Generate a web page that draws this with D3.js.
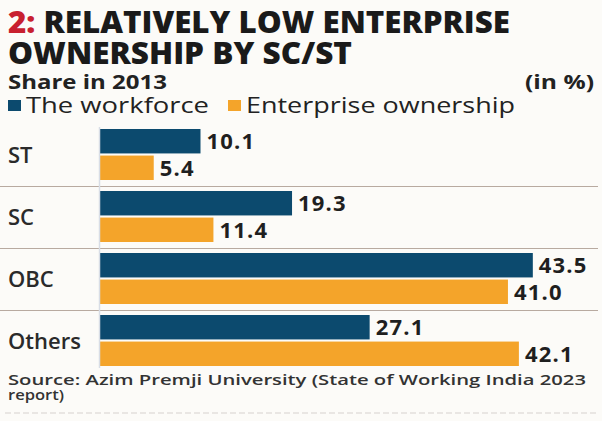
<!DOCTYPE html>
<html>
<head>
<meta charset="utf-8">
<script src="https://cdn.jsdelivr.net/npm/d3@7"></script>
<style>
  html, body { margin: 0; padding: 0; background: #fcfbf8; }
  svg { display: block; }
  text { font-family: "Open Sans", "Noto Sans", sans-serif; }
</style>
</head>
<body>
<div id="chart"></div>
<script>
// Share in 2013 by social group (in %)
const categories = ["ST", "SC", "OBC", "Others"];
const seriesNames = ["The workforce", "Enterprise ownership"];
const workforce = [10.1, 19.3, 43.5, 27.1];
const enterprise = [5.4, 11.4, 41.0, 42.1];
const seriesColors = ["#0c4a6e", "#f4a42a"];

const W = 602, H = 421;
const svg = d3.select("#chart").append("svg")
  .attr("width", W).attr("height", H);

svg.append("rect").attr("width", W).attr("height", H).attr("fill", "#fcfbf8");

// Title
const title = svg.append("g").attr("font-weight", 800).attr("font-size", 30);
const t1 = title.append("text").attr("x", 8).attr("y", 33)
  .attr("textLength", 502).attr("lengthAdjust", "spacingAndGlyphs");
t1.append("tspan").attr("fill", "#c8202f").text("2: ");
t1.append("tspan").attr("fill", "#1a1a1a").text("RELATIVELY LOW ENTERPRISE");
title.append("text").attr("x", 8).attr("y", 64).attr("fill", "#1a1a1a")
  .attr("textLength", 344).attr("lengthAdjust", "spacingAndGlyphs")
  .text("OWNERSHIP BY SC/ST");

// Subtitle and unit
svg.append("text").attr("x", 8).attr("y", 89)
  .attr("font-size", 19).attr("font-weight", 700).attr("fill", "#222")
  .attr("textLength", 159).attr("lengthAdjust", "spacingAndGlyphs")
  .text("Share in 2013");
svg.append("text").attr("x", 525).attr("y", 89)
  .attr("font-size", 19).attr("font-weight", 700).attr("fill", "#222")
  .attr("textLength", 69).attr("lengthAdjust", "spacingAndGlyphs")
  .text("(in %)");

// Legend
const legendX = [8, 228];
const legendLen = [183, 269];
seriesNames.forEach((name, i) => {
  svg.append("rect").attr("x", legendX[i]).attr("y", 100)
    .attr("width", 13).attr("height", 11).attr("fill", seriesColors[i]);
  svg.append("text").attr("x", legendX[i] + 18).attr("y", 113)
    .attr("font-size", 22).attr("font-weight", 500).attr("fill", "#222")
    .attr("textLength", legendLen[i]).attr("lengthAdjust", "spacingAndGlyphs")
    .text(name);
});

// Scales
const x = d3.scaleLinear().domain([0, 50]).range([100, 597.5]);
const y = d3.scaleBand().domain(categories).range([124, 372]);
const ySub = d3.scaleBand().domain(seriesNames).range([5, 56]).paddingInner(0.08);

const rows = categories.map((c, i) => ({
  cat: c,
  vals: [
    { s: seriesNames[0], v: workforce[i], color: seriesColors[0] },
    { s: seriesNames[1], v: enterprise[i], color: seriesColors[1] }
  ]
}));

// Separators between groups
svg.append("g").selectAll("line")
  .data(categories.slice(1))
  .join("line")
  .attr("x1", 0).attr("x2", 598)
  .attr("y1", d => y(d) + 0.5).attr("y2", d => y(d) + 0.5)
  .attr("stroke", "#b8aaa0").attr("stroke-width", 1.2);

const groups = svg.append("g").selectAll("g")
  .data(rows)
  .join("g")
  .attr("transform", d => `translate(0,${y(d.cat)})`);

groups.selectAll("rect")
  .data(d => d.vals)
  .join("rect")
  .attr("x", x(0))
  .attr("y", d => ySub(d.s))
  .attr("width", d => x(d.v) - x(0))
  .attr("height", ySub.bandwidth())
  .attr("fill", d => d.color);

groups.selectAll("text.val")
  .data(d => d.vals)
  .join("text")
  .attr("class", "val")
  .attr("x", d => x(d.v) + 6)
  .attr("y", d => ySub(d.s) + ySub.bandwidth() / 2 + 8)
  .attr("font-size", 22).attr("font-weight", 700).attr("fill", "#1f1f1f")
  .attr("letter-spacing", 1.2)
  .text(d => d.v.toFixed(1));

groups.append("text")
  .attr("x", 8)
  .attr("y", y.bandwidth() / 2 + 8)
  .attr("font-size", 22).attr("font-weight", 600).attr("fill", "#2a2a2a")
  .text(d => d.cat);

// Vertical baseline
svg.append("line")
  .attr("x1", x(0) - 0.5).attr("x2", x(0) - 0.5)
  .attr("y1", y(categories[0]) + 3).attr("y2", y(categories[3]) + y.bandwidth() - 4)
  .attr("stroke", "#d8dde6").attr("stroke-width", 1.5);

// Source note
const src = svg.append("g").attr("font-size", 15).attr("font-weight", 600).attr("fill", "#333");
src.append("text").attr("x", 8).attr("y", 385)
  .attr("textLength", 578).attr("lengthAdjust", "spacingAndGlyphs")
  .text("Source: Azim Premji University (State of Working India 2023");
src.append("text").attr("x", 8).attr("y", 400)
  .attr("textLength", 56).attr("lengthAdjust", "spacingAndGlyphs")
  .text("report)");

svg.append("line").attr("x1", 5).attr("x2", 598).attr("y1", 413).attr("y2", 413)
  .attr("stroke", "#e2e0dc").attr("stroke-width", 1.5).attr("stroke-dasharray", "6,3");
</script>
</body>
</html>
